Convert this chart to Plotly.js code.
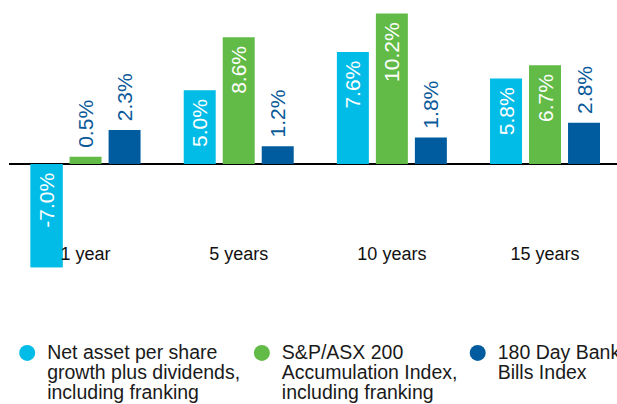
<!DOCTYPE html>
<html><head><meta charset="utf-8">
<script src="https://cdn.plot.ly/plotly-3.0.1.min.js"></script>
<style>html,body{margin:0;padding:0;background:#fff;overflow:hidden}</style>
</head><body><div id="chart" style="width:617px;height:404px"></div>
<script>
const categories = ['1 year', '5 years', '10 years', '15 years'];
const seriesNames = [
  ['Net asset per share', 'growth plus dividends,', 'including franking'],
  ['S&P/ASX 200', 'Accumulation Index,', 'including franking'],
  ['180 Day Bank', 'Bills Index']
];
const netAsset = [-7.0, 5.0, 7.6, 5.8];
const asx200 = [0.5, 8.6, 10.2, 6.7];
const bankBills = [2.3, 1.2, 1.8, 2.8];
const colors = ['#00BCE6', '#62BB46', '#005C9E'];

const FONT = 'Liberation Sans, Arial, sans-serif';
const NB = '\u00a0'; // small padding between label and bar edge
const fmt = v => v.toFixed(1) + '%';
const series = [netAsset, asx200, bankBills];
const INSIDE_MIN = 3.5; // labels fit inside bars taller than this
const legendLabel = lines => lines.map(l => '<span style="font-size:19.5px">' + l + '</span>').join('<br>');

const traces = [];
series.forEach((vals, i) => {
  traces.push({
    type: 'bar', x: categories, y: vals, name: seriesNames[i].join(' '),
    offsetgroup: String(i), showlegend: false,
    marker: {color: colors[i], line: {width: 0}},
    text: vals.map(v => v < 0 ? '' : (v >= INSIDE_MIN ? fmt(v) + NB : NB + fmt(v))),
    textposition: vals.map(v => v >= INSIDE_MIN ? 'inside' : 'outside'),
    textangle: -90, constraintext: 'none',
    insidetextanchor: 'end', cliponaxis: false,
    insidetextfont: {family: FONT, size: 21, color: '#ffffff'},
    outsidetextfont: {family: FONT, size: 21, color: '#0A5A9A'},
    hoverinfo: 'skip'
  });
  // negative values: label sits near the zero line
  if (vals.some(v => v < 0)) {
    traces.push({
      type: 'bar', x: categories, y: vals.map(v => v < 0 ? v : null),
      offsetgroup: String(i), showlegend: false,
      marker: {color: colors[i], line: {width: 0}},
      text: vals.map(v => v < 0 ? fmt(v) + NB : ''),
      textposition: 'inside', textangle: -90, constraintext: 'none',
      insidetextanchor: 'start',
      insidetextfont: {family: FONT, size: 21, color: '#ffffff'},
      hoverinfo: 'skip'
    });
  }
  traces.push({
    type: 'scatter', mode: 'markers', x: [null], y: [null],
    name: legendLabel(seriesNames[i]), legend: i === 0 ? 'legend' : 'legend' + (i + 1),
    marker: {symbol: 'circle', size: 16, color: colors[i]},
    showlegend: true, hoverinfo: 'skip'
  });
});

const legendBase = {
  orientation: 'v', yanchor: 'top', xanchor: 'left', y: -0.16,
  bgcolor: 'rgba(0,0,0,0)', borderwidth: 0, valign: 'top',
  font: {family: FONT, size: 15.4, color: '#1a1a1a'}, tracegroupgap: 0
};

const layout = {
  width: 617, height: 404,
  margin: {l: 9, r: 0, t: 0, b: 114, pad: 0, autoexpand: false},
  paper_bgcolor: '#ffffff', plot_bgcolor: '#ffffff',
  barmode: 'group', bargap: 0.236, bargroupgap: 0.18,
  font: {family: FONT, color: '#111111'},
  xaxis: {
    type: 'category', range: [-0.5, 3.47], anchor: 'free', position: 0.17,
    showline: false, ticks: '', showgrid: false, zeroline: false,
    tickfont: {family: FONT, size: 18, color: '#111111'}, fixedrange: true
  },
  yaxis: {
    range: [-8.54, 11.12], showticklabels: false, showgrid: false,
    zeroline: true, zerolinecolor: '#000000', zerolinewidth: 1.5,
    showline: false, ticks: '', fixedrange: true
  },
  legend: Object.assign({}, legendBase, {x: -0.003}),
  legend2: Object.assign({}, legendBase, {x: 0.383}),
  legend3: Object.assign({}, legendBase, {x: 0.738}),
  showlegend: true
};

Plotly.newPlot('chart', traces, layout, {displayModeBar: false, staticPlot: true});
</script></body></html>
